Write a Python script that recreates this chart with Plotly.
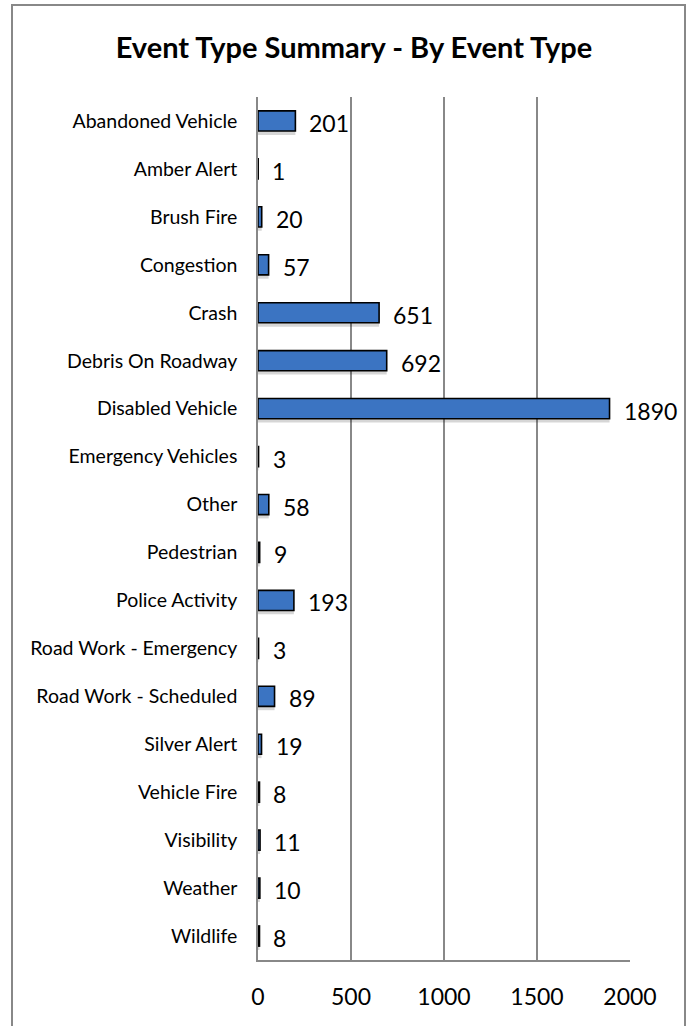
import plotly.graph_objects as go

categories = ["Abandoned Vehicle", "Amber Alert", "Brush Fire", "Congestion", "Crash",
              "Debris On Roadway", "Disabled Vehicle", "Emergency Vehicles", "Other",
              "Pedestrian", "Police Activity", "Road Work - Emergency",
              "Road Work - Scheduled", "Silver Alert", "Vehicle Fire", "Visibility",
              "Weather", "Wildlife"]
counts = [201, 1, 20, 57, 651, 692, 1890, 3, 58, 9, 193, 3, 89, 19, 8, 11, 10, 8]
x_ticks = [0, 500, 1000, 1500, 2000]

FONT = "Lato, 'Open Sans', sans-serif"

W, H = 686, 1026
L, T, R, B = 258, 97, 56, 66
PW = W - L - R
PH = H - T - B

fig = go.Figure()
# soft drop shadow under each bar
fig.add_trace(go.Bar(
    y=categories, x=counts, orientation="h",
    marker=dict(color="rgba(0,0,0,0.16)", line=dict(width=0)),
    width=0.44, offset=-0.15,
    hoverinfo="skip",
))
fig.add_trace(go.Bar(
    y=categories, x=counts, orientation="h",
    marker=dict(color="#3b74c2", line=dict(color="#000000", width=1.6)),
    width=0.42, offset=-0.21,
    hoverinfo="skip",
))

annotations = [
    dict(x=v, y=c, xref="x", yref="y", text=str(v), showarrow=False,
         xanchor="left", yanchor="middle", xshift=12, yshift=-2,
         font=dict(family=FONT, size=23, color="#000000"))
    for c, v in zip(categories, counts)
]

fig.update_layout(
    width=W, height=H,
    margin=dict(l=L, r=R, t=T, b=B),
    paper_bgcolor="white", plot_bgcolor="white",
    showlegend=False, barmode="overlay",
    annotations=annotations,
    title=dict(text="<b>Event Type Summary - By Event Type</b>",
               font=dict(family=FONT, size=29, color="#000000"),
               x=354 / W, xanchor="center", y=1 - 48 / H, yanchor="middle"),
    xaxis=dict(range=[0, 2000], tickvals=x_ticks, ticktext=[str(t) for t in x_ticks],
               showgrid=True, gridcolor="#888888", gridwidth=1.5,
               showline=True, linecolor="#888888", linewidth=1.5,
               zeroline=False, ticks="", ticklabelstandoff=16,
               tickfont=dict(family=FONT, size=23, color="#000000")),
    yaxis=dict(categoryorder="array", categoryarray=categories, autorange="reversed",
               showgrid=False, showline=True, linecolor="#888888", linewidth=1.5,
               ticks="", ticklabelstandoff=15,
               tickfont=dict(family=FONT, size=19.5, color="#000000")),
    shapes=[dict(type="rect", xref="paper", yref="paper",
                 x0=(12 - L) / PW, x1=(685 - L) / PW,
                 y0=-0.2, y1=(H - B - 5) / PH,
                 line=dict(color="#888888", width=2), fillcolor="rgba(0,0,0,0)",
                 layer="above")],
)

fig.write_html("out.html", config={"displayModeBar": False},
               post_script="document.body.style.margin='0';")
